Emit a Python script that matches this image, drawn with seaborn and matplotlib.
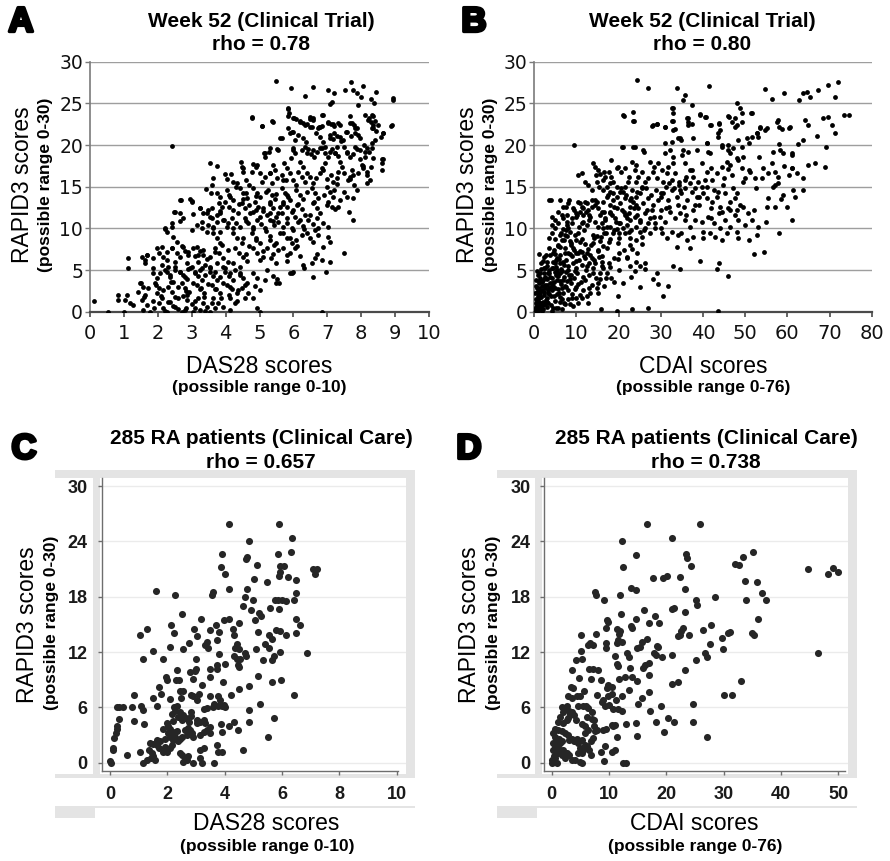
import matplotlib
matplotlib.use("Agg")
import matplotlib.pyplot as plt
import matplotlib.patheffects as pe
from matplotlib.patches import Rectangle
import pandas as pd
import seaborn as sns

# ---------------- data ----------------
# Panel A: Week 52 (Clinical Trial) - DAS28 vs RAPID3
panel_a = [
(5.49,27.7),(5.93,26.8),(6.57,27.0),(6.34,25.9),(7.03,26.6),(7.21,26.2),(7.53,26.6),(7.69,27.6),(7.77,26.6),(8.04,27.1),
(7.89,26.2),(8.0,25.8),(8.43,26.4),(8.95,25.7),(8.93,25.4),(7.13,25.2),(7.08,24.9),(7.9,24.8),(8.39,25.1),(8.28,25.5),
(5.85,24.3),(5.88,23.8),(4.77,23.3),(5.99,23.3),(6.07,23.1),(5.39,22.8),(5.06,22.3),(6.19,22.9),(6.27,22.6),(6.39,22.5),
(6.49,23.1),(6.57,23.2),(6.48,22.2),(6.86,23.6),(6.77,22.2),(6.84,22.3),(7.03,22.8),(7.11,22.5),(7.21,22.3),(7.33,22.6),
(7.66,23.5),(7.73,22.7),(7.8,22.4),(7.87,22.0),(8.11,23.6),(8.24,23.3),(8.34,23.5),(8.41,22.9),(8.49,22.4),(8.28,22.8),
(8.36,22.0),(8.43,21.7),(8.88,22.3),(8.63,21.4),(8.58,21.0),(7.56,21.6),(7.71,21.1),(7.82,21.4),(7.96,20.9),(7.21,21.4),
(7.08,20.9),(7.16,20.7),(7.28,21.1),(7.4,20.5),(6.74,22.0),(6.67,21.5),(6.79,21.0),(6.88,20.4),(5.99,21.6),(6.14,21.2),
(6.29,20.9),(6.37,20.4),(5.85,22.0),(5.9,21.4),(5.65,20.8),(2.41,19.9),(8.09,20.0),(8.16,19.6),(8.31,20.2),
(5.53,19.5),(5.29,19.2),(5.14,19.0),(5.16,18.6),(5.99,19.6),(6.05,19.0),(5.92,18.5),(6.34,19.8),(6.43,19.5),(6.52,18.9),
(6.62,18.6),(6.69,19.2),(6.84,19.6),(6.93,19.0),(7.03,18.6),(7.13,19.5),(7.23,19.1),(7.33,18.7),(7.48,19.8),(7.58,19.2),
(7.66,18.6),(7.77,18.9),(7.87,19.5),(7.95,18.3),(8.11,18.6),(8.24,19.2),(8.34,18.4),(8.63,18.3),(8.62,17.8),(8.6,17.0),
(8.01,17.6),(8.06,17.2),(8.16,16.8),(8.28,17.4),(8.16,16.4),(7.92,16.7),(7.72,17.0),(7.77,16.4),(7.62,15.8),(7.67,16.2),
(7.38,18.0),(7.43,17.4),(7.33,16.8),(7.48,16.6),(7.28,16.0),(7.18,15.6),(7.1,16.4),(6.93,17.8),(6.84,17.2),(6.77,16.6),
(6.67,16.0),(6.59,15.5),(6.98,15.9),(6.19,18.0),(6.29,17.4),(6.14,16.8),(6.24,16.2),(6.34,15.6),(6.39,16.6),(5.72,17.8),
(5.8,17.2),(5.9,16.6),(5.65,16.4),(5.78,15.8),(5.99,15.8),(5.39,17.6),(5.46,17.0),(5.31,16.6),(5.51,16.0),(5.36,15.5),
(4.82,17.7),(4.89,17.4),(4.77,16.8),(5.01,16.6),(5.16,16.2),(5.06,15.6),(4.44,18.0),(4.47,17.4),(4.52,16.8),(3.54,17.8),
(3.76,17.5),(4.16,16.5),(4.23,15.6),(4.35,15.5),(3.98,16.5),(4.05,15.9),(4.6,15.8),(4.7,15.2),(3.64,16.0),(8.26,15.8),
(8.16,15.4),
(3.41,14.7),(3.56,14.2),(3.74,14.3),(3.83,13.8),(4.03,14.6),(4.13,13.8),(4.23,13.4),(3.98,13.2),(4.11,12.6),(4.23,12.2),
(3.89,12.6),(4.42,14.8),(4.52,14.2),(4.62,13.6),(4.47,13.0),(4.57,12.4),(4.72,11.8),(4.38,11.8),(4.82,14.8),(4.92,14.3),
(5.01,13.8),(4.87,13.2),(4.97,12.6),(5.11,12.1),(4.82,12.0),(5.26,14.6),(5.36,14.0),(5.46,13.5),(5.31,12.9),(5.41,12.4),
(5.56,11.8),(5.21,11.6),(5.65,14.8),(5.75,14.3),(5.85,13.8),(5.7,13.2),(5.8,12.6),(5.95,12.0),(5.65,11.8),(6.09,14.6),
(6.19,14.0),(6.29,13.5),(6.14,12.9),(6.24,12.3),(6.34,11.6),(6.05,11.4),(6.54,14.8),(6.64,14.2),(6.74,13.6),(6.59,13.0),
(6.69,12.4),(6.79,11.8),(6.49,11.6),(6.98,15.0),(7.08,14.4),(7.18,13.8),(7.03,13.2),(7.13,12.6),(7.23,12.3),(7.38,13.4),
(7.33,12.6),(7.48,14.4),(7.58,13.8),(7.75,13.6),(7.65,12.0),(7.75,11.0),(7.8,15.2),(7.89,14.6),(2.95,13.5),(3.0,13.2),
(2.66,13.4),(2.51,12.0),(3.24,12.4),(3.34,11.8),(3.44,11.8),(3.59,11.2),(3.74,10.8),(3.49,10.4),(3.64,10.2),(3.29,10.8),
(3.83,11.8),(3.95,11.0),(4.08,10.6),(4.18,11.2),(4.31,10.7),(4.42,10.2),(4.23,10.0),(4.57,11.2),(4.67,10.7),(4.8,10.2),
(4.92,11.0),(5.03,10.5),(5.16,10.0),(5.31,11.0),(5.43,10.4),(5.56,10.8),(5.68,10.2),(5.8,10.6),(5.95,10.0),(6.14,10.8),
(6.29,10.3),(6.44,11.0),(6.59,10.5),(6.74,10.0),(6.88,10.7),(7.03,10.2),(2.66,11.8),(2.73,11.2),(2.21,9.9),(2.26,9.6),
(2.41,10.7),
(1.97,7.6),(2.05,7.0),(2.16,6.6),(2.26,6.2),(2.11,5.6),(2.31,5.4),(2.41,7.6),(2.46,9.0),(2.56,8.4),(2.7,7.9),
(2.8,7.3),(2.9,6.8),(2.65,6.6),(2.51,6.0),(2.85,5.8),(3.0,5.4),(3.15,7.8),(3.24,7.3),(3.34,6.8),(3.44,6.3),
(3.19,6.0),(3.39,5.6),(3.54,5.2),(3.1,6.7),(3.64,9.4),(3.74,8.8),(3.83,8.3),(3.69,7.6),(3.81,7.0),(3.93,6.5),
(4.08,6.0),(3.74,5.8),(3.93,5.4),(4.23,9.4),(4.35,8.8),(4.47,8.3),(4.28,7.6),(4.4,7.1),(4.52,6.6),(4.64,6.1),
(4.23,5.8),(4.42,5.4),(4.77,9.4),(4.9,8.8),(5.01,8.3),(4.82,7.6),(4.94,7.0),(5.11,6.6),(5.21,7.6),(5.31,8.6),
(5.43,8.0),(5.56,7.4),(5.33,6.5),(5.49,5.8),(5.7,9.4),(5.8,8.8),(5.95,8.3),(6.05,7.6),(5.9,7.0),(6.09,8.6),
(6.24,9.2),(6.31,9.9),(6.39,9.4),(6.5,8.8),(6.59,8.4),(6.74,9.2),(6.64,9.8),(7.03,9.0),(7.08,8.4),(6.88,7.8),
(6.69,6.9),(6.64,6.4),(6.84,6.2),(6.29,5.6),(6.54,5.8),(7.08,6.0),(7.5,7.1),(5.9,4.6),(5.99,4.8),(6.31,5.3),
(6.59,4.2),(6.96,4.8),(5.41,4.3),(5.51,3.9),(5.57,3.5),(1.13,6.5),(1.13,5.2),(1.67,6.8),(1.62,6.2),(1.87,6.4),
(0.84,2.0),(0.84,1.4),(1.03,1.4),(1.18,1.0),(1.28,0.8),(1.08,2.0),(0.13,1.3),(0.52,0.0),(1.01,0.0),
(1.47,3.4),(1.57,3.0),(1.43,2.4),(1.62,2.0),(1.52,1.4),(1.67,0.8),(1.57,0.2),(1.77,0.0),
(1.87,4.6),(1.97,4.0),(1.92,3.4),(2.05,2.8),(1.97,2.2),(2.11,1.6),(2.05,1.0),(2.16,0.4),(2.26,0.0),
(2.26,4.8),(2.36,4.2),(2.46,3.6),(2.31,3.0),(2.41,2.4),(2.51,1.8),(2.31,1.2),(2.46,0.7),(2.61,0.3),(2.7,0.0),
(2.65,4.8),(2.75,4.4),(2.85,3.9),(2.7,3.4),(2.8,2.9),(2.93,2.4),(2.75,1.9),(2.87,1.4),(3.0,0.9),(2.83,0.4),(3.05,0.0),
(3.1,4.8),(3.2,4.3),(3.29,3.8),(3.15,3.2),(3.24,2.7),(3.36,2.2),(3.2,1.6),(3.32,1.1),(3.44,0.6),(3.24,0.2),(3.54,0.0),
(3.54,4.8),(3.64,4.3),(3.74,3.8),(3.59,3.2),(3.72,2.7),(3.83,2.2),(3.64,1.6),(3.79,1.1),(3.93,0.6),(4.13,0.2),
(3.98,4.8),(4.11,4.3),(4.23,3.8),(4.03,3.2),(4.18,2.7),(4.33,2.2),(4.13,1.6),(4.28,1.1),
(4.42,4.6),(4.52,4.0),(4.62,3.4),(4.47,2.8),(4.67,2.2),(4.57,1.6),
(4.82,4.6),(4.92,4.0),(4.87,3.1),(5.01,2.6),(4.82,1.6),(4.92,0.4),(5.0,0.0),(5.21,5.0),(5.16,3.8),(6.84,0.0),
(2.51,5.0),(2.9,5.1),(3.29,5.2),
]

# Panel A, dense core (second reading of the crowded area)
panel_a_dense = [
(2.67,13.4),(3.0,13.3),(2.48,12.0),(2.65,10.9),(3.05,11.7),(3.24,12.4),(3.49,12.2),(3.59,12.5),(3.54,11.4),(3.74,11.6),
(3.83,12.1),(3.93,11.0),(2.21,10.0),(2.41,10.2),(3.0,9.8),(3.15,10.4),(3.29,10.0),(3.44,9.6),(3.64,10.0),(3.83,9.6),
(4.03,10.2),(2.11,7.8),(2.26,7.2),(2.41,7.6),(2.56,7.0),(2.75,7.8),(2.9,7.2),(3.05,7.6),(3.19,6.8),(3.34,7.4),
(3.54,6.6),(3.69,7.2),(3.88,8.0),(4.08,7.4),(1.52,6.6),(1.67,6.8),(1.62,5.8),
(1.87,5.2),(2.06,4.6),(2.21,5.0),(2.36,4.4),(2.51,5.4),(2.65,4.8),(2.8,4.2),(2.95,5.2),(3.1,4.6),(3.24,5.0),
(3.39,4.4),(3.54,5.4),(3.69,4.8),(3.83,4.2),(3.98,5.2),(4.13,4.6),(4.28,5.0),(4.42,4.4),
(1.5,3.4),(1.72,2.8),(1.94,3.2),(2.16,2.6),(2.38,3.6),(2.6,3.0),(2.82,2.5),(3.04,3.4),(3.26,2.9),(3.48,3.3),
(3.7,2.7),(3.92,3.5),(4.14,3.0),(4.36,2.6),(4.58,3.2),
(1.6,1.8),(1.85,1.3),(2.1,1.9),(2.35,1.2),(2.6,1.7),(2.85,2.0),(3.1,1.3),(3.35,1.8),(3.6,1.1),(3.85,1.6),
(4.1,2.0),(4.35,1.3),(1.9,0.5),(2.2,0.1),(2.5,0.6),(2.8,0.2),(3.1,0.4),(3.4,0.1),(3.7,0.5),
(4.5,13.5),(4.7,12.8),(4.9,13.9),(5.1,12.5),(5.3,13.2),(5.5,14.1),(5.7,12.9),(5.9,13.4),(6.0,12.2),(4.6,10.9),
(4.8,9.9),(5.0,11.4),(5.2,9.7),(5.4,10.9),(5.6,9.5),(5.8,11.2),(6.0,9.8),(4.5,8.9),(4.7,7.9),(4.9,8.6),
(5.1,7.3),(5.3,9.1),(5.5,8.2),(5.7,7.6),(5.9,8.9),(6.1,7.9),(4.6,6.9),(5.0,6.2),(5.4,6.9),(5.8,6.1),
(6.2,6.7),(5.95,4.6),(5.5,3.4),(5.8,6.8),
(4.77,23.4),(5.06,22.3),(5.38,22.9),(5.85,24.4),(5.85,23.5),(6.03,23.2),(6.19,22.8),(6.34,22.4),(6.49,23.4),(6.59,23.0),
(6.54,22.2),(6.83,23.6),(6.75,22.2),(7.03,22.6),(7.18,22.5),(7.37,22.4),(7.08,21.2),(7.37,21.0),(7.57,21.6),(7.47,20.6),
(7.67,22.6),(7.82,22.0),(7.91,21.2),(8.21,23.0),(8.31,23.6),(8.36,22.4),(8.31,22.0),(8.65,21.4),(8.9,22.4),(8.41,20.6),
(8.31,19.6),(5.95,21.6),(6.05,20.6),(6.0,19.4),(6.24,19.4),(6.39,19.0),(6.59,19.4),(6.78,19.6),(6.93,19.8),(7.08,19.2),
(7.28,19.8),(7.23,19.0),(7.57,19.0),(7.82,19.8),(7.96,19.4),(8.11,19.2),(8.6,18.3),(5.6,20.8),(5.16,19.1),(5.31,19.6),
(5.55,19.4),(4.52,17.2),(4.92,17.6),(5.31,16.6),(5.7,15.8),(6.09,15.2),(6.49,16.2),(6.88,17.0),(7.28,15.3),(7.67,15.9),
(8.06,17.5),(4.6,14.2),(4.9,12.2),(5.2,14.4),(5.5,11.4),(5.8,14.0),(6.1,12.8),(6.4,14.4),(6.7,11.2),(7.0,12.8),
(7.2,14.6),(6.2,11.0),(6.6,13.2),(6.9,14.0),(5.3,11.8),(5.6,12.6),(4.4,12.9),(4.1,14.0),(4.3,15.0),(3.8,13.0),
(3.6,15.2),
]

# Panel B: Week 52 (Clinical Trial) - CDAI vs RAPID3
panel_b = [
(24.4,27.8),(27.0,26.8),(33.9,26.8),(41.5,27.1),(35.7,26.0),(35.3,25.4),(37.3,24.8),(32.8,24.4),(32.8,23.8),(23.5,24.0),
(21.3,23.5),(23.7,22.9),(28.1,22.4),(29.1,22.5),(31.0,22.2),(32.8,22.9),(33.4,21.9),(36.4,23.3),(36.5,22.8),(39.3,23.6),
(40.5,23.4),(41.8,22.4),(43.9,22.6),(44.0,21.8),(43.5,21.0),(46.2,23.4),(46.9,22.8),(47.6,22.2),(48.1,25.1),(48.8,24.5),
(49.2,23.8),(51.4,23.8),(53.5,22.0),(54.7,21.8),(54.7,26.7),(56.3,25.5),(59.1,26.2),(57.5,22.8),(58.1,22.2),(60.5,22.1),
(62.8,25.4),(63.6,26.2),(64.6,26.4),(65.4,25.8),(64.2,23.0),(65.0,22.4),(67.2,26.6),(69.7,27.2),(71.9,27.6),(71.3,25.8),
(73.4,23.6),(74.7,23.6),(68.5,23.3),(69.6,23.4),(70.7,22.4),(71.3,21.5),(67.0,21.1),(63.8,20.6),(62.6,20.1),(9.5,20.0),
(21.0,19.8),(23.5,19.8),(26.1,19.2),(31.0,20.2),(32.2,19.4),(34.5,20.9),(34.9,20.6),(37.7,20.9),(41.0,20.2),(41.3,19.2),
(44.4,19.8),(46.0,20.0),(46.4,19.0),(48.4,20.6),(49.2,19.8),(50.4,20.8),(50.8,20.2),(52.7,21.4),(53.1,21.0),(58.1,20.1),
(58.9,19.0),(61.0,18.8),(69.2,19.8),
(13.8,17.8),(14.4,17.4),(15.0,17.0),(18.1,18.2),(19.9,17.4),(21.5,17.2),(23.1,18.0),(23.9,17.0),(24.7,16.2),(25.5,16.8),
(27.4,18.0),(28.2,16.8),(29.4,17.8),(30.2,17.0),(29.0,16.0),(30.6,15.6),(31.8,17.4),(32.9,18.6),(33.4,16.6),(34.2,15.6),
(32.6,15.8),(35.1,18.8),(35.7,17.8),(36.9,17.0),(37.7,16.2),(35.7,15.8),(38.9,15.6),(39.7,17.8),(40.9,16.8),(42.1,15.8),
(43.3,16.6),(44.4,17.4),(45.6,18.0),(45.9,17.1),(46.8,16.4),(48.2,18.2),(49.2,17.2),(50.0,16.0),(51.2,16.8),(52.3,16.0),
(53.3,18.6),(54.3,17.2),(55.3,16.6),(56.3,17.8),(57.1,16.8),(57.9,16.2),(59.1,17.5),(61.0,17.2),(62.2,16.6),(64.8,17.6),
(66.5,17.8),(68.9,17.4),(63.6,16.0),(63.8,14.6),(57.9,15.5),(56.7,15.0),(61.4,14.6),(61.8,13.8),(55.1,12.6),(57.1,12.6),
(58.5,13.5),(61.0,11.0),(10.4,16.4),(11.2,16.6),(12.0,15.6),(12.8,15.2),(13.6,14.6),(14.8,15.6),(15.3,15.0),(16.4,15.8),
(17.2,15.0),(17.9,14.4),(18.7,15.6),(19.5,15.0),(20.3,14.4),(21.5,15.0),(22.3,15.6),(23.1,14.6),(24.3,14.4),(25.5,15.0),
(26.2,15.6),
(6.1,13.4),(6.9,12.6),(8.1,13.0),(9.2,12.4),(10.4,13.2),(11.2,12.6),(10.0,11.8),(11.6,11.6),(12.8,12.2),(13.6,13.4),
(14.4,12.8),(15.2,12.4),(16.4,13.2),(17.2,13.8),(17.9,12.8),(18.7,13.4),(19.5,12.4),(20.3,13.0),(21.5,13.6),(22.7,12.6),
(23.5,13.2),(24.7,12.4),(25.8,13.0),(27.0,13.6),(28.2,12.8),(29.4,13.4),(30.6,14.2),(31.6,13.4),(32.6,14.6),(33.8,13.8),
(34.9,14.2),(36.1,13.4),(37.3,14.4),(38.5,13.8),(39.7,15.0),(40.9,13.6),(42.1,13.2),(43.3,13.8),(44.0,12.6),(45.2,14.2),
(46.4,13.2),(47.6,13.6),(48.8,12.8),(13.2,11.4),(14.4,10.8),(15.6,11.6),(16.8,11.0),(17.9,11.8),(19.1,11.2),(20.3,10.6),
(21.5,11.6),(22.7,11.0),(23.9,11.4),(25.1,10.8),(26.2,11.8),(27.4,11.2),(28.6,10.6),(29.8,11.4),(31.0,10.8),(32.2,12.0),
(33.4,11.2),(34.5,11.8),(35.7,11.0),(36.9,10.2),(38.1,11.0),(39.7,10.8),(41.3,11.4),(42.7,10.6),(43.9,11.8),(45.2,11.0),
(46.4,10.2),(47.6,11.6),(48.4,11.0),(51.5,11.0),(53.1,10.2),(4.1,11.4),(4.9,11.0),(5.7,10.6),(6.9,11.2),(7.7,10.4),
(4.0,13.4),(26.2,10.0),(27.4,9.4),(28.6,10.0),(30.2,9.4),(31.4,8.8),(32.6,9.6),(33.8,7.8),(34.9,9.4),(36.1,8.6),
(37.7,9.0),(40.1,8.8),(41.7,9.4),(42.9,9.0),(44.4,8.6),(45.6,9.4),(48.4,8.8),(50.8,8.6),(52.7,9.2),
(1.0,6.9),(2.1,6.1),(2.9,5.5),(1.7,5.1),(3.3,4.7),(2.5,4.1),(4.1,9.5),(4.9,8.7),(5.7,7.9),(4.5,7.1),
(5.3,6.5),(6.1,5.9),(4.5,5.3),(6.5,4.9),(5.7,4.3),(6.9,9.9),(7.7,9.1),(8.5,8.5),(7.3,7.7),(8.1,7.1),
(9.2,7.7),(8.9,6.7),(10.0,6.1),(8.1,5.5),(9.6,4.9),(10.4,9.5),(11.2,8.7),(12.0,8.1),(10.8,7.3),(11.9,6.7),
(12.8,7.5),(13.6,6.5),(14.4,5.9),(12.4,5.5),(14.8,9.1),(15.6,8.5),(16.4,7.9),(15.2,7.3),(16.0,6.7),(17.2,7.7),
(17.9,8.7),(18.7,9.5),(19.5,9.9),(19.9,8.3),(21.5,9.5),(22.7,8.9),(19.9,6.3),(21.9,6.5),(23.1,7.5),(24.3,7.1),
(25.5,8.1),(16.0,5.5),(17.2,4.7),(18.3,4.1),(15.6,3.9),(16.6,3.1),(15.2,2.3),(22.7,5.5),(23.9,4.9),(25.1,5.5),
(26.2,5.1),(28.2,3.9),(29.4,3.3),(29.0,4.7),(26.2,5.9),(30.6,1.9),(31.8,3.1),(33.0,5.5),(34.5,5.1),(36.9,7.7),
(39.3,6.1),(43.4,5.1),(43.9,5.9),(46.0,4.3),(54.5,7.2),(52.2,6.9),(12.4,1.9),(13.2,2.3),(14.8,2.9),(12.8,1.1),
(19.9,1.9),(19.5,0.1),(23.1,0.3),(27.0,0.5),(43.6,0.1),(15.7,0.3),(10.4,1.1),(8.5,0.9),
(0.3,0.1),(0.55,0.7),(0.95,1.3),(0.8,1.9),(1.35,2.5),(1.75,3.1),(1.1,3.7),(2.1,0.3),(2.5,0.9),(2.9,1.7),
(3.3,2.3),(2.5,2.9),(3.7,3.5),(4.1,4.1),(3.3,1.1),(4.5,0.5),(4.9,1.3),(5.3,2.1),(5.7,2.7),(4.5,3.1),
(6.1,3.7),(6.5,1.5),(6.9,2.3),(7.3,3.1),(7.7,3.7),(5.7,0.5),(7.3,0.9),(8.1,1.5),(8.9,2.1),(9.6,2.7),
(10.0,1.7),(9.2,0.7),(10.4,3.3),(8.5,3.9),(1.35,4.7),(2.5,5.3),(0.55,4.9),(0.3,3.1),(0.8,0.1),(1.75,0.1),
(4.1,0.1),(6.5,0.3),(0.15,2.3),(0.3,1.5),(0.5,1.0),(1.2,1.6),(1.5,0.4),(2.0,1.2),(2.2,2.0),(1.8,2.6),
(0.7,2.8),(1.0,3.4),(1.4,4.1),(2.0,3.8),(2.6,4.2),(3.0,3.2),(3.5,2.9),(3.9,1.9),(4.3,2.6),(4.7,3.6),
(5.1,4.4),(5.5,5.0),(6.0,4.6),(6.4,3.3),(3.6,4.6),(4.2,5.2),(4.8,5.8),(3.0,6.0),(2.2,6.6),(5.2,6.2),
(6.2,6.8),(7.0,5.6),(7.6,4.8),(8.2,4.4),(8.8,3.4),(9.4,4.0),(10.2,4.6),(11.0,3.6),(11.6,4.2),(3.8,6.8),
(4.6,7.4),(5.6,8.0),(6.6,8.6),(7.2,9.2),(8.0,10.0),(9.0,10.6),(9.8,11.4),(10.8,12.0),(11.5,12.4),(12.0,13.2),
(3.4,13.4),(8.2,13.4),(9.5,12.2),(7.8,11.6),(10.6,10.2),(11.8,9.8),(12.6,10.4),(13.0,11.0),(7.4,9.8),(6.0,9.2),
(8.6,8.2),(9.8,7.0),(10.6,6.2),(11.4,5.6),(12.2,5.0),(13.0,4.4),(13.8,5.2),(14.2,6.2),(12.4,7.0),(13.4,8.0),
(14.0,9.2),(15.0,10.2),(16.2,10.0),(17.0,9.4),(18.0,10.2),(19.0,9.8),(20.0,10.6),(21.0,10.0),(22.0,10.4),(23.0,9.8),
(24.0,10.2),(25.0,9.6),(16.6,12.0),(18.4,11.6),(20.8,12.2),(22.4,11.8),(24.4,11.6),(26.8,12.2),(15.5,16.5),(16.8,16.2),
(17.6,16.8),(18.6,14.2),(19.6,13.8),(20.6,14.8),(21.8,14.0),(22.8,13.4),(24.0,13.8),(25.0,14.2),(26.4,14.8),(27.6,14.0),
(28.8,14.6),(30.0,13.8),(31.2,15.0),(32.0,15.4),(33.2,14.8),(34.4,15.2),(35.8,14.8),(37.0,15.4),(38.0,14.8),(40.0,14.2),
(41.0,15.0),(42.5,14.6),(44.8,15.2),(47.0,14.8),(48.0,12.2),(49.6,12.6),(50.6,11.8),(46.5,12.2),(44.6,12.0),(42.0,12.4),
(39.0,12.8),(37.6,12.2),(35.4,12.6),(34.0,12.8),(31.2,12.4),(30.0,12.2),(28.4,11.4),(27.0,10.6),(25.6,9.0),(24.0,8.6),
(22.6,8.0),(21.2,7.4),(20.2,7.0),(18.8,6.4),(17.6,5.8),(16.4,5.2),(15.6,4.6),(14.6,4.0),(13.6,3.2),(11.6,2.6),
(10.8,2.0),
]

# Panel B, dense core and upper band (second reading)
panel_b_dense = [
(0.4,0.6),(0.9,0.3),(1.3,1.0),(1.6,1.8),(0.6,2.4),(1.1,2.9),(1.9,3.6),(2.3,2.4),(2.7,1.4),(3.1,0.6),
(3.5,2.1),(3.9,3.0),(2.4,4.6),(2.9,3.9),(3.4,5.0),(3.8,4.2),(4.3,3.4),(4.6,1.9),(5.0,2.9),(5.4,3.8),
(5.8,2.2),(6.2,1.2),(6.6,2.8),(7.0,4.2),(4.4,6.0),(4.9,6.9),(5.2,5.4),(5.9,6.3),(6.3,5.1),(6.8,6.0),
(7.2,7.1),(7.6,6.2),(8.0,5.0),(8.4,6.9),(8.8,8.0),(9.1,5.8),(9.5,7.4),(9.9,8.6),(10.3,7.0),(10.8,8.4),
(11.2,7.2),(11.6,10.8),(12.0,6.4),(12.5,13.0),(12.9,11.6),(13.3,6.8),(13.8,8.2),(14.3,13.4),(14.7,16.4),(15.2,7.4),
(15.8,9.0),(16.3,14.6),(16.8,11.2),(17.3,10.2),(17.8,8.4),(18.3,16.2),(18.9,12.6),(19.4,10.8),(20.0,8.8),(20.6,16.8),
(21.2,12.0),(21.8,11.6),(22.4,9.6),(23.0,13.6),(23.6,12.4),(24.2,15.6),(25.0,11.0),(6.0,7.8),(6.4,9.4),(7.0,8.6),
(7.8,10.8),(8.4,9.6),(9.0,11.2),(9.6,9.2),(10.2,11.6),(10.9,13.0),(11.4,10.6),(12.2,12.0),(13.0,5.8),(13.6,12.6),
(14.2,8.8),(14.8,13.2),(15.4,6.6),(16.0,12.0),(16.6,9.4),(17.4,14.0),(2.0,0.8),(3.0,1.2),(4.0,0.8),(5.2,0.4),
(6.0,1.8),(7.0,1.0),(8.0,2.6),(9.0,1.6),(10.0,3.0),(11.2,1.6),(12.0,3.8),(13.0,2.8),(14.0,4.6),(15.0,3.4),
(16.0,6.0),(17.0,4.0),(18.0,5.4),(19.0,3.6),(20.0,5.0),(21.0,3.4),(22.0,6.6),(23.0,4.2),(24.0,6.0),(25.0,3.0),
(0.2,0.3),(0.7,1.4),(1.0,0.7),(1.4,2.2),(0.3,3.8),(0.9,4.4),(1.6,5.8),(2.2,5.2),(2.8,6.8),(3.4,7.6),
(3.6,8.8),(4.2,10.4),(5.0,10.0),(5.6,12.0),(6.6,11.6),(7.4,12.6),(1.2,2.0),(1.8,1.0),(2.6,3.2),(3.2,2.6),
(4.8,4.8),(5.6,4.6),(6.8,3.8),(7.4,3.0),(8.6,4.4),(9.8,5.2),
(21.1,23.6),(23.5,22.9),(27.8,22.3),(29.2,22.5),(31.0,22.2),(32.6,24.4),(32.6,22.9),(32.8,21.8),(36.3,23.2),(36.5,22.4),
(37.3,22.5),(39.3,23.7),(40.7,23.4),(41.7,22.4),(43.8,22.5),(43.6,21.4),(46.0,23.5),(47.6,23.3),(48.0,22.4),(49.2,22.8),
(51.5,23.9),(53.5,22.2),(55.1,22.0),(57.9,23.0),(58.7,21.9),(60.6,22.2),
(20.7,19.8),(23.9,19.8),(25.8,19.4),(31.0,19.0),(32.6,20.4),(34.1,20.8),(35.3,19.4),(36.5,19.2),(38.5,19.4),(40.9,20.2),
(41.7,19.0),(44.4,20.0),(46.0,19.4),(47.2,19.6),(48.0,18.4),(49.6,18.6),(51.5,21.0),(52.7,21.4),(56.7,19.2),(58.3,19.4),
(61.0,19.0),(61.0,17.2),
(16.5,16.8),(18.0,15.4),(19.5,17.2),(21.0,14.4),(22.5,16.2),(24.0,17.6),(25.5,14.8),(27.0,16.0),(28.5,17.4),(30.0,14.2),
(31.5,16.6),(33.0,17.8),(34.5,14.6),(36.0,16.2),(37.5,17.0),(39.0,13.8),(40.5,15.8),(42.0,17.2),(43.5,14.4),(45.0,16.0),
(46.5,17.6),(48.0,14.2),(49.5,15.6),(51.0,17.0),(52.5,14.8),(54.0,16.0),(55.5,13.6),(57.0,15.2),(59.0,14.0),(60.5,16.4),
(16.0,10.6),(18.0,12.0),(20.0,9.4),(22.0,11.2),(24.0,12.8),(26.0,9.8),(28.0,12.2),(30.0,10.0),(32.0,12.6),(34.0,9.2),
(36.0,11.6),(38.0,12.8),(40.0,9.6),(42.0,11.2),(44.0,10.0),(46.0,12.4),(48.0,9.6),(50.0,10.4),(52.0,12.2),(55.0,10.8),
(58.0,9.4),(60.0,12.6),
]

# Panel C: 285 RA patients (Clinical Care) - DAS28 vs RAPID3
panel_c = [
(4.16,25.9),(5.88,25.9),(6.34,24.4),(4.86,24.1),(6.31,22.8),(5.85,22.6),(3.9,22.6),(4.78,22.3),(4.74,22.1),(5.12,21.4),
(5.93,21.3),(6.05,21.3),(3.86,21.2),(4.01,20.5),(7.09,21.0),(7.15,20.5),(7.2,21.0),(5.94,20.7),(5.9,20.2),(5.02,19.9),
(6.22,20.1),(6.49,19.8),(5.47,19.6),(4.77,18.8),(4.15,18.8),(1.59,18.6),(3.58,18.5),(3.55,18.2),(2.28,18.2),(4.71,18.0),
(5.0,17.6),(6.49,18.4),(5.76,17.6),(5.87,17.6),(6.0,17.6),(6.13,17.5),(6.4,17.6),(4.65,17.0),(4.91,16.6),(5.58,16.8),
(5.88,16.7),(2.51,16.1),(5.2,16.2),(5.27,15.9),(5.06,15.5),(6.49,15.6),(6.63,14.9),(4.15,15.6),(3.97,15.5),(3.17,15.6),
(3.7,14.9),(1.05,13.8),(1.28,14.5),(2.12,14.9),(2.24,14.1),(2.94,14.5),(3.02,13.7),(3.49,14.4),(3.37,13.1),(3.8,14.2),
(3.74,13.3),(4.3,14.5),(4.33,13.8),(4.5,15.1),(5.15,14.2),(5.55,13.8),(5.64,13.4),(5.8,14.4),(5.93,14.3),(6.13,13.9),
(6.47,14.1),(2.77,13.0),(2.09,12.6),(1.49,12.1),(2.53,12.3),(3.3,12.8),(3.43,12.4),(4.42,12.9),(4.36,12.4),(4.48,12.3),
(4.69,11.9),(4.73,11.6),(5.08,12.3),(5.41,12.9),(5.56,12.4),(5.72,11.6),(5.64,11.1),(5.93,12.0),(6.86,11.9),(3.8,11.8),
(4.31,11.6),(4.43,11.3),(4.53,11.3),(4.47,10.6),(4.48,10.4),(5.35,11.1),(1.14,11.3),(1.86,11.2),(3.0,11.2),(4.02,10.7),
(3.74,10.6),(3.72,10.2),(3.47,10.2),(2.33,10.0),(3.0,10.2),(2.97,9.9),(2.79,9.8),(2.88,9.1),(3.47,9.3),(1.94,9.3),
(1.98,9.0),(2.31,9.0),(2.4,9.0),(5.17,9.4),(3.93,8.7),(5.64,8.7),(5.95,9.0),(3.19,8.4),(4.83,8.3),(2.53,7.8),
(2.45,7.8),(1.7,8.2),(4.51,8.0),(4.21,7.3),(6.4,7.3),(0.85,7.3),(1.77,7.4),(2.83,7.3),(2.91,7.2),(3.1,7.4),
(3.02,6.8),(2.09,6.9),(2.49,7.0),(1.51,7.0),(3.78,7.2),(3.84,6.8),(3.98,6.3),(3.92,6.1),(4.02,6.0),(3.76,6.1),
(3.6,6.0),(3.37,5.9),(3.26,5.8),(0.31,6.0),(0.44,6.0),(0.26,6.0),(0.78,6.0),(1.14,5.7),(1.07,6.1),(1.65,6.1),
(2.23,6.0),(2.33,6.1),(2.44,5.5),(2.53,5.2),(2.38,5.0),(2.5,4.6),(2.58,4.8),(2.28,5.6),(2.15,5.3),(2.81,5.5),
(3.02,4.6),(3.12,4.4),(3.02,4.3),(4.83,5.7),(5.24,6.4),(5.72,4.9),(5.52,2.8),(0.33,4.7),(0.26,4.0),(0.85,4.5),
(1.19,4.2),(0.2,3.2),(0.26,3.6),(0.15,2.7),(0.09,1.6),(0.12,1.4),(0.0,0.2),(0.02,0.0),(0.58,0.8),(1.05,1.2),
(1.14,0.0),(1.28,0.3),(1.37,1.4),(1.45,1.0),(1.51,0.7),(1.57,0.3),(1.42,0.5),(1.63,1.9),(1.72,1.6),(1.84,1.2),
(1.92,1.7),(2.0,1.2),(2.09,1.6),(2.15,1.9),(2.21,2.5),(1.86,3.6),(2.09,3.7),(2.33,3.4),(2.27,2.8),(2.38,2.3),
(2.44,2.6),(2.5,2.8),(2.62,3.5),(2.73,3.8),(2.79,3.5),(2.67,3.0),(2.85,3.2),(2.91,2.8),(2.5,0.8),(2.62,0.5),
(2.67,0.3),(2.44,1.0),(2.56,0.1),(2.73,0.7),(2.91,0.0),(3.12,0.5),(3.2,0.0),(3.26,1.6),(3.14,1.4),(3.14,3.0),
(3.26,3.3),(3.37,3.5),(3.47,3.2),(3.49,3.9),(3.28,4.6),(3.31,4.3),(3.62,0.0),(3.78,1.2),(3.9,1.2),(3.74,1.9),
(3.91,3.3),(3.86,4.2),(4.16,4.0),(4.34,4.4),(4.45,3.5),(4.62,1.4),(4.84,4.4),(3.62,6.4),(3.49,7.2),(2.83,5.1),
(2.76,4.4),(2.64,4.9),(2.19,4.5),(2.03,4.0),(1.98,4.3),(1.92,2.6),(2.01,3.2),(2.1,2.8),(2.19,3.3),(1.74,2.3),
(1.63,2.5),(1.51,2.0),(1.4,2.1),
]

# Panel D: 285 RA patients (Clinical Care) - CDAI vs RAPID3
panel_d = [
(16.57,25.9),(25.87,25.9),(21.05,24.4),(12.2,24.0),(14.77,22.5),(23.49,22.6),(23.55,22.2),(35.17,22.8),(33.43,22.3),(24.24,21.3),
(12.38,21.2),(31.98,21.5),(32.73,21.4),(44.65,21.0),(48.26,20.5),(49.13,21.1),(50.0,20.7),(17.73,20.0),(19.48,20.0),(20.17,20.3),
(22.38,20.1),(33.72,19.7),(35.76,19.6),(13.78,18.9),(14.65,18.7),(23.26,18.8),(7.56,18.5),(7.67,18.2),(11.98,18.2),(9.19,17.6),
(28.49,18.0),(36.74,18.4),(37.33,17.6),(25.12,17.6),(25.29,17.1),(33.9,17.6),(21.28,16.8),(21.05,16.7),(16.16,16.6),(12.03,16.1),
(18.02,15.9),(23.26,16.3),(9.59,15.5),(9.88,15.3),(9.42,14.6),(13.78,14.8),(14.07,14.6),(11.45,14.5),(11.92,14.3),(11.8,14.0),
(14.77,15.6),(18.78,15.1),(17.0,15.2),(27.79,14.9),(26.34,14.4),(22.85,14.6),(22.56,14.3),(36.05,15.6),(34.94,14.1),(35.29,13.9),
(30.81,14.1),(31.1,14.2),(29.77,13.5),(5.06,13.8),(7.67,14.0),(6.69,13.0),(7.15,12.8),(6.4,12.8),(5.12,12.1),(11.63,13.3),
(12.21,13.1),(11.34,13.0),(9.53,13.0),(9.42,12.4),(15.41,12.6),(14.83,12.4),(15.7,13.1),(18.31,12.7),(18.6,12.6),(16.63,13.4),
(22.09,13.7),(22.38,13.8),(24.01,13.8),(27.62,12.9),(26.74,11.9),(27.03,11.5),(29.94,12.3),(46.51,11.9),(25.12,11.1),(19.19,11.5),
(20.99,11.7),(17.79,11.9),(18.2,11.7),(13.2,11.9),(13.55,11.5),(11.05,11.6),(11.4,10.7),(11.63,10.5),(4.24,11.1),(5.35,11.2),
(3.6,10.1),(6.57,10.2),(7.27,10.2),(8.14,10.0),(13.72,10.3),(16.28,10.6),(16.92,10.8),(15.99,10.3),(23.26,10.1),(16.98,9.5),
(4.83,9.2),(6.86,9.1),(8.55,9.0),(11.74,9.1),(12.79,9.3),(13.95,9.3),(14.88,8.9),(21.05,8.5),(21.98,8.7),(33.02,8.9),
(3.37,8.2),(3.78,8.1),(9.88,8.4),(9.59,8.1),(10.47,8.2),(13.55,7.9),(16.98,7.7),(5.64,7.8),(2.91,7.2),(3.6,7.0),
(4.36,7.2),(4.94,7.2),(7.85,7.3),(9.01,6.8),(9.77,7.2),(10.58,7.4),(11.16,6.8),(12.21,7.2),(30.06,7.3),(31.51,7.3),
(15.0,6.4),(15.81,7.0),(24.59,6.4),(19.07,6.1),(1.86,6.0),(2.62,6.1),(2.03,5.5),(3.02,5.6),(2.33,5.8),(3.6,5.5),
(3.2,5.3),(4.65,6.1),(5.41,6.1),(5.93,6.1),(6.4,5.9),(7.09,5.5),(6.22,5.0),(6.98,4.7),(7.44,4.6),(8.72,6.6),
(9.3,6.1),(10.06,6.3),(10.76,5.8),(11.63,5.8),(12.21,5.6),(17.09,5.6),(1.45,5.0),(1.05,4.4),(2.03,4.3),(2.62,4.6),
(2.91,4.8),(3.9,5.2),(4.19,4.6),(5.23,4.2),(5.81,4.0),(7.38,4.0),(7.85,3.5),(10.47,4.1),(10.76,4.0),(11.05,4.1),
(12.97,4.2),(14.71,4.3),(18.2,4.4),(20.23,4.9),(21.4,4.4),(24.59,4.4),(0.58,3.7),(1.16,3.5),(1.74,3.4),(2.33,3.2),
(2.91,3.0),(3.49,2.6),(3.02,2.5),(4.36,2.6),(3.95,2.3),(4.65,2.1),(5.23,2.5),(5.81,3.2),(6.28,3.5),(6.8,2.3),
(7.27,2.7),(7.56,3.4),(9.01,3.5),(9.42,3.7),(11.34,2.8),(14.83,2.9),(19.53,3.3),(27.15,2.8),(0.0,0.3),(0.29,0.1),
(0.58,0.5),(0.12,0.0),(0.87,0.0),(0.41,0.7),(1.16,1.0),(1.45,1.4),(0.58,1.7),(1.05,1.9),(0.29,2.1),(1.45,2.1),
(2.03,1.4),(2.62,1.0),(2.33,0.5),(1.74,0.8),(3.02,0.8),(3.6,0.3),(4.07,0.3),(4.94,0.1),(5.23,0.0),(4.53,1.0),
(4.94,1.6),(5.52,1.4),(5.81,1.9),(5.35,1.0),(6.1,1.8),(6.86,0.8),(6.57,1.4),(8.55,1.2),(9.19,0.2),(9.3,1.8),
(10.58,1.2),(11.05,1.4),(12.5,0.0),(12.91,0.0),(0.58,2.8),(0.29,3.2),(0.87,2.5),(1.28,2.6),(1.74,2.3),(0.29,1.4),
(0.87,1.2),
]

top_titles = ["Week 52 (Clinical Trial)", "Week 52 (Clinical Trial)"]
top_rhos = ["rho = 0.78", "rho = 0.80"]
bottom_titles = ["285 RA patients (Clinical Care)", "285 RA patients (Clinical Care)"]
bottom_rhos = ["rho = 0.657", "rho = 0.738"]
panel_letters = ["A", "B", "C", "D"]
x_names = ["DAS28 scores", "CDAI scores", "DAS28 scores", "CDAI scores"]
x_ranges = ["(possible range 0-10)", "(possible range 0-76)", "(possible range 0-10)", "(possible range 0-76)"]
y_name = "RAPID3 scores"
y_range = "(possible range 0-30)"
top_yticks = [0, 5, 10, 15, 20, 25, 30]
top_xticks_a = list(range(0, 11))
top_xticks_b = list(range(0, 81, 10))
bot_yticks = [0, 6, 12, 18, 24, 30]
bot_xticks_c = [0, 2, 4, 6, 8, 10]
bot_xticks_d = [0, 10, 20, 30, 40, 50]

# ---------------- figure ----------------
sns.set_theme(style="white")
plt.rcParams['font.family'] = ['Liberation Sans', 'DejaVu Sans']
plt.rcParams['text.color'] = 'black'

W, H = 890, 861
fig = plt.figure(figsize=(W / 100, H / 100), dpi=100)
fig.patch.set_facecolor("white")

def fx(x):
    return x / W

def fy(y):
    return 1 - y / H

def add_ax(left, top, right, bottom):
    return fig.add_axes([fx(left), fy(bottom), (right - left) / W, (bottom - top) / H])

def to_df(pts):
    return pd.DataFrame(pts, columns=["x", "y"])

TITLE_FS = 15
LBL_FS = 16.5
SUB_FS = 12.5

def ftext(x, y, s, **kw):
    kw.setdefault("color", "black")
    fig.text(fx(x), fy(y), s, **kw)

def letter(x, y, s):
    fig.text(fx(x), fy(y), s, fontsize=25, fontweight="bold", ha="center", va="center",
             family="Liberation Sans", color="black",
             path_effects=[pe.withStroke(linewidth=2.4, foreground="black")])

# ---- top panels ----
def top_panel(ax, pts, xlim, xticks):
    sns.scatterplot(data=to_df(pts), x="x", y="y", ax=ax, color="black", s=12,
                    linewidth=0, legend=False, zorder=3)
    ax.set_xlim(*xlim)
    ax.set_ylim(0, 30)
    ax.set_xticks(xticks)
    ax.set_yticks(top_yticks)
    for v in top_yticks[1:]:
        ax.axhline(v, color="#9e9e9e", lw=1.0, zorder=1)
    ax.set_xlabel("")
    ax.set_ylabel("")
    for s in ["top", "right"]:
        ax.spines[s].set_visible(False)
    ax.spines["left"].set_color("#7a7a7a")
    ax.spines["left"].set_linewidth(1.2)
    ax.spines["bottom"].set_color("#4a4a4a")
    ax.spines["bottom"].set_linewidth(1.6)
    ax.tick_params(axis="x", direction="out", length=3.5, width=1.2, color="#4a4a4a",
                   labelsize=14, pad=5, bottom=True)
    ax.tick_params(axis="y", direction="out", length=3.5, width=1.0, color="#7a7a7a",
                   labelsize=13.5, pad=1.5, left=True)
    for lab in ax.get_xticklabels() + ax.get_yticklabels():
        lab.set_family("DejaVu Sans")
        lab.set_color("#111111")
    ax.set_facecolor("white")

axA = add_ax(90, 61.7, 429, 311.7)
top_panel(axA, panel_a + panel_a_dense, (0, 10), top_xticks_a)
axB = add_ax(534.3, 61.7, 871.7, 311.7)
top_panel(axB, panel_b + panel_b_dense, (0, 80), top_xticks_b)

for cx, t, r in [(261, top_titles[0], top_rhos[0]), (702, top_titles[1], top_rhos[1])]:
    ftext(cx, 27, t, fontsize=TITLE_FS, fontweight="bold", ha="center", va="baseline")
    ftext(cx, 49.5, r, fontsize=TITLE_FS, fontweight="bold", ha="center", va="baseline")

letter(21, 22, panel_letters[0])
letter(474, 22, panel_letters[1])

ftext(23, 185, y_name, fontsize=LBL_FS, rotation=90, ha="center", va="center")
ftext(45.5, 185, y_range, fontsize=SUB_FS, fontweight="bold", rotation=90, ha="center", va="center")
ftext(468, 185, y_name, fontsize=LBL_FS, rotation=90, ha="center", va="center")
ftext(490.5, 185, y_range, fontsize=SUB_FS, fontweight="bold", rotation=90, ha="center", va="center")

ftext(259, 366, x_names[0], fontsize=LBL_FS, ha="center", va="center")
ftext(259, 387, x_ranges[0], fontsize=SUB_FS, fontweight="bold", ha="center", va="center")
ftext(703, 366, x_names[1], fontsize=LBL_FS, ha="center", va="center")
ftext(703, 387, x_ranges[1], fontsize=SUB_FS, fontweight="bold", ha="center", va="center")

# ---- bottom panels (Stata-like frame) ----
FRAME = "#e4e4e4"

def frame(dx):
    rects = [
        (55 + dx, 470, 415 + dx, 478),     # top band
        (92.7 + dx, 478, 100 + dx, 774),   # left band
        (406 + dx, 470, 415 + dx, 777.5),  # right band
        (55 + dx, 774, 415 + dx, 777.5),   # bottom band
        (55 + dx, 805.8, 415 + dx, 807.6), # lower thin line
        (55 + dx, 805.8, 95 + dx, 817.5),  # small grey block
    ]
    for (x0, y0, x1, y1) in rects:
        fig.add_artist(Rectangle((fx(x0), fy(y1)), (x1 - x0) / W, (y1 - y0) / H,
                                 transform=fig.transFigure, facecolor=FRAME,
                                 edgecolor="none", zorder=0))

def bottom_panel(ax, pts, xlim, ylim, xticks, xspine_end):
    sns.scatterplot(data=to_df(pts), x="x", y="y", ax=ax, color="#262626", s=26,
                    linewidth=0, legend=False, zorder=3)
    ax.set_xlim(*xlim)
    ax.set_ylim(*ylim)
    ax.set_xticks(xticks)
    ax.set_yticks(bot_yticks)
    for v in bot_yticks:
        ax.axhline(v, color="#ebebeb", lw=1.0, zorder=1)
    ax.set_xlabel("")
    ax.set_ylabel("")
    for s in ["top", "right"]:
        ax.spines[s].set_visible(False)
    for s in ["left", "bottom"]:
        ax.spines[s].set_color("#6e6e6e")
        ax.spines[s].set_linewidth(1.0)
    ax.spines["bottom"].set_bounds(xlim[0], xspine_end)
    ax.tick_params(axis="both", direction="out", length=3, width=1.0, color="#6e6e6e",
                   labelsize=13, bottom=True, left=True)
    ax.tick_params(axis="x", pad=8)
    ax.tick_params(axis="y", pad=7)
    for lab in ax.get_xticklabels() + ax.get_yticklabels():
        lab.set_fontweight("bold")
        lab.set_color("#1a1a1a")
    ax.set_facecolor("white")
    ax.patch.set_alpha(0)

frame(0)
frame(442)

ylim_bot = (-0.87, 30.88)
axC = add_ax(101.7, 478, 406, 770.7)
bottom_panel(axC, panel_c, (-0.29, 10.32), ylim_bot, bot_xticks_c, 10.05)
axD = add_ax(544.3, 478, 848, 770.7)
bottom_panel(axD, panel_d, (-1.29, 51.68), ylim_bot, bot_xticks_d, 51.2)

for cx, t, r in [(261, bottom_titles[0], bottom_rhos[0]), (706, bottom_titles[1], bottom_rhos[1])]:
    ftext(cx, 444.5, t, fontsize=TITLE_FS, fontweight="bold", ha="center", va="baseline")
    ftext(cx, 467.5, r, fontsize=TITLE_FS, fontweight="bold", ha="center", va="baseline")

letter(24, 449, panel_letters[2])
letter(469, 449, panel_letters[3])

ftext(27.5, 624.5, y_name, fontsize=LBL_FS, rotation=90, ha="center", va="center")
ftext(51.5, 623, y_range, fontsize=SUB_FS, fontweight="bold", rotation=90, ha="center", va="center")
ftext(470, 624.5, y_name, fontsize=LBL_FS, rotation=90, ha="center", va="center")
ftext(493.5, 623, y_range, fontsize=SUB_FS, fontweight="bold", rotation=90, ha="center", va="center")

ftext(266, 824, x_names[2], fontsize=LBL_FS, ha="center", va="center")
ftext(267, 847, x_ranges[2], fontsize=SUB_FS, fontweight="bold", ha="center", va="center")
ftext(694, 824, x_names[3], fontsize=LBL_FS, ha="center", va="center")
ftext(695, 847, x_ranges[3], fontsize=SUB_FS, fontweight="bold", ha="center", va="center")

fig.savefig("out.png", dpi=100, facecolor="white")
